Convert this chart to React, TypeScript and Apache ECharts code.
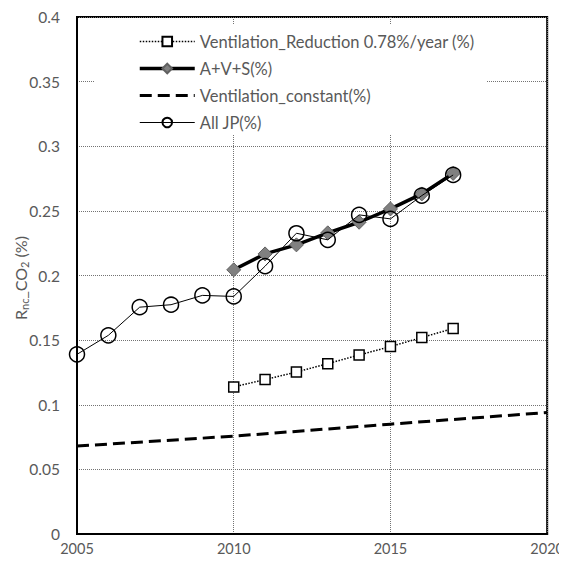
import React, { useEffect, useRef } from "react";
import * as echarts from "echarts";

const years = [2005, 2006, 2007, 2008, 2009, 2010, 2011, 2012, 2013, 2014, 2015, 2016, 2017];
const allJP = [0.139, 0.1537, 0.1755, 0.1774, 0.1846, 0.1838, 0.2072, 0.2327, 0.2276, 0.2469, 0.2438, 0.2618, 0.2778];
const avsYears = [2010, 2011, 2012, 2013, 2014, 2015, 2016, 2017];
const avs = [0.2044, 0.2167, 0.2237, 0.233, 0.2412, 0.2515, 0.2631, 0.279];
const ventReduction = [0.1138, 0.1195, 0.1253, 0.1318, 0.1385, 0.145, 0.152, 0.159];
const constYears = [2005, 2010, 2015, 2020];
const ventConstant = [0.068, 0.0757, 0.085, 0.094];

const names = [
  "Ventilation_Reduction 0.78%/year (%)",
  "A+V+S(%)",
  "Ventilation_constant(%)",
  "All JP(%)",
];

// y-axis title pieces: [text, isSubscript]
const titleParts: [string, boolean][] = [
  ["R", false],
  ["nc", true],
  ["_CO", false],
  ["2", true],
  [" (%)", false],
];

const FONT = "Lato, 'Open Sans', sans-serif";
const GRAY = "#595959";
const GRIDC = "#737373";

const zip = (xs: number[], ys: number[]) => xs.map((x, i) => [x, ys[i]]);

function buildTitle() {
  const canvas = document.createElement("canvas");
  const ctx = canvas.getContext("2d");
  const sizes = titleParts.map(([t, sub]) => {
    const fs = sub ? 11 : 16;
    let w = t.length * fs * 0.55;
    if (ctx) {
      ctx.font = fs + "px " + FONT;
      w = ctx.measureText(t).width;
    }
    return { t, sub, fs, w };
  });
  const total = sizes.reduce((s, p) => s + p.w, 0);
  let cx = -total / 2;
  const children = sizes.map((p) => {
    const el = {
      type: "text",
      x: cx,
      y: p.sub ? 4 : 0,
      style: {
        text: p.t,
        fill: GRAY,
        fontSize: p.fs,
        fontFamily: FONT,
        align: "left",
        verticalAlign: "middle",
      },
    };
    cx += p.w;
    return el;
  });
  return {
    type: "group",
    x: 20,
    y: 278,
    rotation: Math.PI / 2,
    z: 5,
    children,
  };
}

export default function App() {
  const ref = useRef<HTMLDivElement>(null);
  useEffect(() => {
    if (!ref.current) return;
    const chart = echarts.init(ref.current, undefined, { renderer: "svg" });
    chart.setOption({
      animation: false,
      backgroundColor: "#fff",
      textStyle: { fontFamily: FONT },
      grid: {
        left: 77,
        right: 18,
        top: 17,
        bottom: 28,
        show: true,
        borderColor: "#000",
        borderWidth: 2,
        backgroundColor: "rgba(255,255,255,0)",
      },
      xAxis: {
        type: "value",
        min: 2005,
        max: 2020,
        interval: 5,
        axisLine: { show: true, lineStyle: { color: "#000", width: 2 } },
        axisTick: { show: false },
        axisLabel: {
          color: GRAY,
          fontSize: 14.5,
          fontFamily: FONT,
          margin: 7,
          formatter: (v: number) => String(v),
        },
        splitLine: { show: true, lineStyle: { color: GRIDC, type: "dotted", width: 1 } },
      },
      yAxis: {
        type: "value",
        min: 0,
        max: 0.4,
        interval: 0.05,
        axisLine: { show: true, lineStyle: { color: "#000", width: 2 } },
        axisTick: { show: false },
        axisLabel: { color: GRAY, fontSize: 15.5, fontFamily: FONT, margin: 17 },
        splitLine: { show: true, lineStyle: { color: GRIDC, type: "dotted", width: 1 } },
      },
      graphic: [
        {
          type: "rect",
          z: 2,
          shape: { x: 95, y: 25, width: 392, height: 110 },
          style: { fill: "#fff" },
          silent: true,
        },
        buildTitle(),
      ],
      legend: {
        orient: "vertical",
        left: 133,
        top: 28,
        itemWidth: 55,
        itemHeight: 12,
        itemGap: 10,
        data: [
          { name: names[0], lineStyle: { width: 1.5 } },
          { name: names[1], lineStyle: { width: 3.5 } },
          { name: names[2], lineStyle: { width: 3 }, itemStyle: { opacity: 0 } },
          { name: names[3], lineStyle: { width: 1 } },
        ],
        textStyle: { color: GRAY, fontSize: 16.5, fontFamily: FONT, lineHeight: 16 },
        z: 5,
      },
      series: [
        {
          name: names[0],
          type: "line",
          data: zip(avsYears, ventReduction),
          symbol: "rect",
          symbolSize: 10,
          lineStyle: { color: "#000", width: 1.5, type: "dotted" },
          itemStyle: { color: "#fff", borderColor: "#000", borderWidth: 1.5 },
          z: 3,
        },
        {
          name: names[1],
          type: "line",
          data: zip(avsYears, avs),
          symbol: "diamond",
          symbolSize: 14,
          lineStyle: { color: "#000", width: 3.5 },
          itemStyle: { color: "#808080", borderColor: "#606060", borderWidth: 1 },
          z: 3,
        },
        {
          name: names[2],
          type: "line",
          data: zip(constYears, ventConstant),
          symbol: "none",
          lineStyle: { color: "#000", width: 3, type: [12, 6] },
          itemStyle: { color: "#000" },
          z: 3,
        },
        {
          name: names[3],
          type: "line",
          data: zip(years, allJP),
          symbol: "circle",
          symbolSize: 15,
          lineStyle: { color: "#000", width: 1 },
          itemStyle: { color: "rgba(255,255,255,0)", borderColor: "#000", borderWidth: 1.5 },
          z: 4,
        },
      ],
    });
    return () => chart.dispose();
  }, []);
  return <div ref={ref} style={{ width: 567, height: 562, margin: -8 }} />;
}
